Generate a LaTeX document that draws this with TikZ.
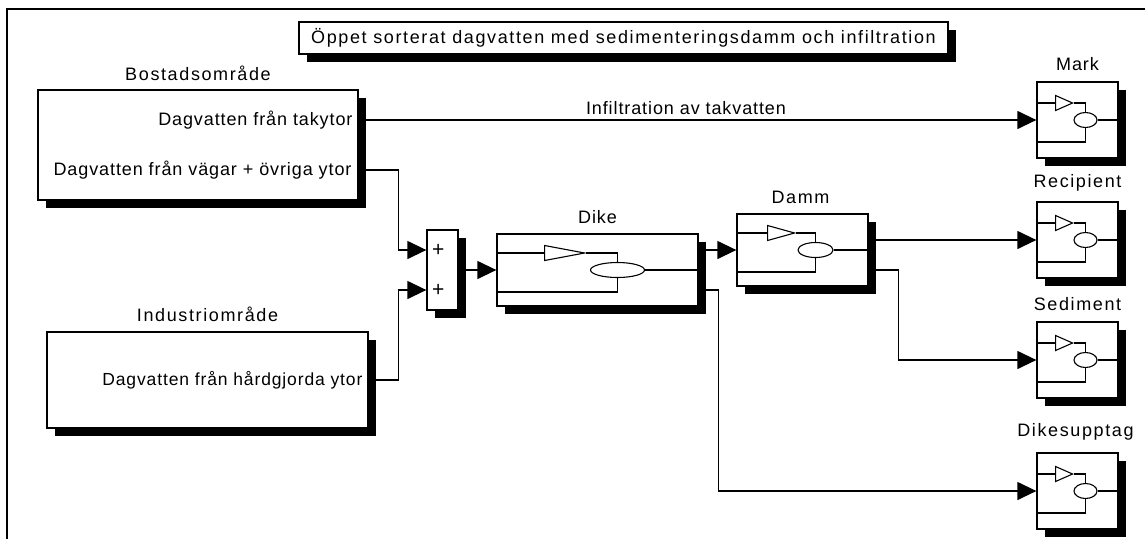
\documentclass[tikz,border=0pt]{standalone}
\usepackage{fontspec}
\setmainfont[LetterSpace=5]{Liberation Sans}
\usepackage{tikz}
\usetikzlibrary{positioning,shapes.geometric,shadows,arrows.meta}
\tikzset{
  block/.style={draw, line width=1.3pt, fill=white, inner sep=0pt,
    drop shadow={shadow xshift=8pt, shadow yshift=-8pt, opacity=1, fill=black}},
  wire/.style={line width=1.3pt},
  feed/.style={wire, -{Triangle[length=19pt,width=18pt]}},
  part/.style={draw, line width=1.1pt, fill=white, inner sep=0pt},
  lbl/.style={font=\fontsize{18}{22}\selectfont, inner sep=0pt},
  widelbl/.style={font=\fontsize{18}{22}\selectfont\addfontfeature{LetterSpace=9}, inner sep=0pt}
}

\begin{document}
\begin{tikzpicture}[x=1pt,y=-1pt]
      \useasboundingbox (0,0) rectangle (1145,539);
      \draw[wire] (7,539) |- (1145,9);

      \node[block, minimum width=649pt, minimum height=32pt] (Title) at (623.5,38) {};
      \node[widelbl] (TitleText) at (Title) {Öppet sorterat dagvatten med sedimenteringsdamm och infiltration};

      \node[block, minimum width=320pt, minimum height=110pt] (Bostad) at (198,145) {};
      \node[on grid, below right=235pt and 9.5pt of Bostad, block, minimum width=321pt, minimum height=96pt] (Industri) {};
      \node[widelbl, above=8pt of Bostad] (BostadName) {Bostadsområde};
      \node[widelbl, above=9pt of Industri] (IndustriName) {Industriområde};
      \coordinate[above=25pt of Bostad.east] (BostadTak);
      \coordinate[below=25pt of Bostad.east] (BostadVag);
      \node[lbl, left=6pt of BostadTak] (TakText) {Dagvatten från takytor};
      \node[lbl, left=7pt of BostadVag] (VagText) {Dagvatten från vägar + övriga ytor};
      \node[lbl, left=6pt of Industri.east, font=\fontsize{17.5}{22}\selectfont] (HardText) {Dagvatten från hårdgjorda ytor};

      \node[block, minimum width=31pt, minimum height=80pt] (Sum) at (442.5,270) {};
      \coordinate[above=20pt of Sum.west] (SumIn1);
      \coordinate[below=20pt of Sum.west] (SumIn2);
      \node[right=5.5pt of SumIn1, lbl, font=\fontsize{21}{22}\selectfont] (Plus1) {+};
      \node[right=5.5pt of SumIn2, lbl, font=\fontsize{21}{22}\selectfont] (Plus2) {+};

      \node[block, minimum width=201pt, minimum height=72pt] (Dike) at (597.5,270) {};
      \node[lbl, above=9pt of Dike] (DikeName) {Dike};
      \node[block, minimum width=131pt, minimum height=72pt] (Damm) at (802.5,250) {};
      \node[widelbl, above=9pt of Damm, xshift=-2pt] (DammName) {Damm};

      \node[block, minimum width=81pt, minimum height=76pt] (Mark) at (1077.5,120) {};
      \node[on grid, below=120pt of Mark, block, minimum width=81pt, minimum height=76pt] (Recipient) {};
      \node[on grid, below=120pt of Recipient, block, minimum width=81pt, minimum height=76pt] (Sediment) {};
      \node[on grid, below=131pt of Sediment, block, minimum width=81pt, minimum height=76pt] (Supptag) {};
      \node[lbl, above=10pt of Mark] (MarkName) {Mark};
      \node[widelbl, above=10pt of Recipient] (RecipientName) {Recipient};
      \node[widelbl, above=10pt of Sediment] (SedimentName) {Sediment};
      \node[widelbl, above=12pt of Supptag, xshift=-2pt] (SupptagName) {Dikesupptag};

      % icon inside each block
      \foreach \b/\tx/\tw/\ex/\ew in {Mark/-22.5/17/8/23,Recipient/-22.5/17/8/23,Sediment/-22.5/17/8/23,Supptag/-22.5/17/8/23,Dike/-53.5/40/20/54,Damm/-35.5/27/13/35}{
        \node[part, isosceles triangle, isosceles triangle stretches, minimum height=\tw pt, minimum width=15pt, anchor=west, xshift=\tx pt, yshift=17pt] (\b Tri) at (\b) {};
        \node[part, ellipse, minimum width=\ew pt, minimum height=15pt, xshift=\ex pt] (\b Ell) at (\b) {};
        \coordinate[below=14pt of \b Ell] (\b Low);
        \draw[wire] (\b.west |- \b Tri.west) -- (\b Tri.west);
        \draw[wire] (\b Tri.apex) -| (\b Ell.north);
        \draw[wire] (\b.west |- \b Low) -- (\b Low) -- (\b Ell.south);
        \draw[wire] (\b Ell.east) -- (\b.east);
      }

      \coordinate[above=20pt of Dike.east] (DikeUt1);
      \coordinate[below=20pt of Dike.east] (DikeUt2);
      \coordinate[above=10pt of Damm.east] (DammUt1);
      \coordinate[below=20pt of Damm.east] (DammUt2);

      \draw[feed] (BostadTak) to node[pos=0.483, lbl, above=5pt] (InfText) {Infiltration av takvatten} (Mark.west);
      \draw[feed] (BostadVag) -- ++(40,0) |- (SumIn1);
      \draw[feed] (Industri.east) -- ++(30,0) |- (SumIn2);
      \draw[feed] (Sum) -- (Dike.west);
      \draw[feed] (DikeUt1) -- (Damm.west);
      \draw[feed] (DikeUt2) -- ++(20,0) |- (Supptag.west);
      \draw[feed] (DammUt1) -- (Recipient.west);
      \draw[feed] (DammUt2) -- ++(30,0) |- (Sediment.west);
    \end{tikzpicture}
\end{document}
